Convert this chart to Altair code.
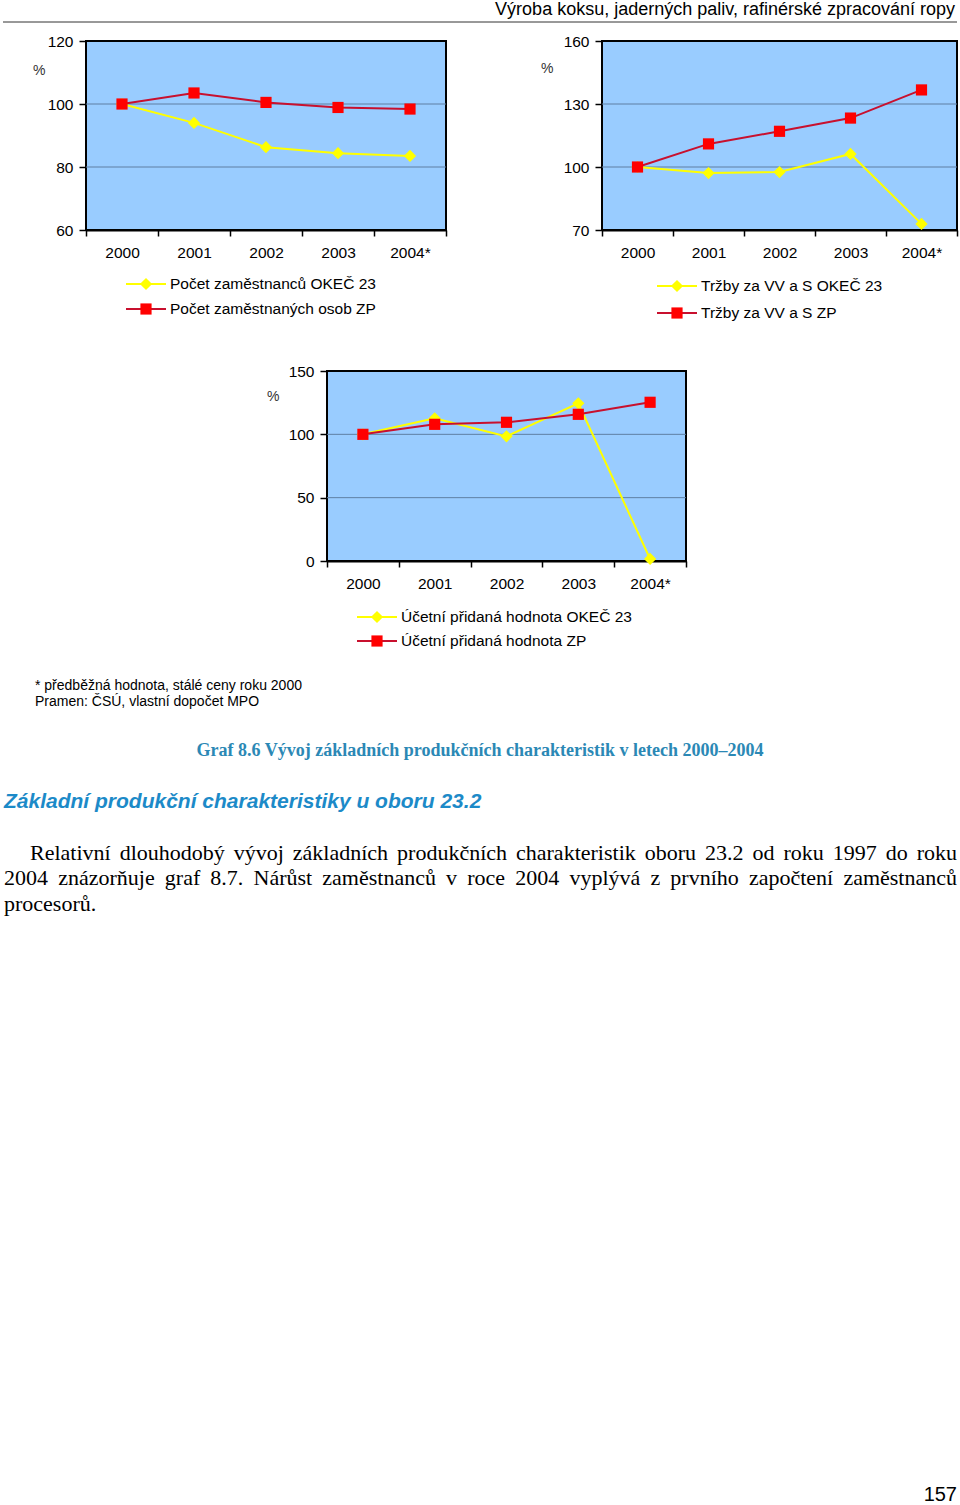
import unicodedata
import altair as alt
import pandas as pd

# ---------------- data ----------------
years = ["2000", "2001", "2002", "2003", "2004*"]

# chart 1 – employees
emp_names = ["Počet zaměstnanců OKEČ 23", "Počet zaměstnaných osob ZP"]
emp_okec = [100, 94.0, 86.3, 84.4, 83.5]
emp_zp = [100, 103.5, 100.5, 98.9, 98.4]
emp_ticks = [60, 80, 100, 120]

# chart 2 – sales
sal_names = ["Tržby za VV a S OKEČ 23", "Tržby za VV a S ZP"]
sal_okec = [100, 97.1, 97.6, 106.2, 72.9]
sal_zp = [100, 111.0, 117.0, 123.3, 136.7]
sal_ticks = [70, 100, 130, 160]

# chart 3 – value added
va_names = ["Účetní přidaná hodnota OKEČ 23", "Účetní přidaná hodnota ZP"]
va_okec = [100, 112.6, 98.4, 124.5, 1.6]
va_zp = [100, 107.9, 109.5, 115.8, 125.3]
va_ticks = [0, 50, 100, 150]

header_text = "Výroba koksu, jaderných paliv, rafinérské zpracování ropy"
footnote_1 = "* předběžná hodnota, stálé ceny roku 2000"
footnote_2 = "Pramen: ČSÚ, vlastní dopočet MPO"
caption = "Graf 8.6 Vývoj základních produkčních charakteristik v letech 2000–2004"
heading = "Základní produkční charakteristiky u oboru 23.2"
para_lines = [
    "Relativní dlouhodobý vývoj základních produkčních charakteristik oboru 23.2 od roku 1997 do roku",
    "2004 znázorňuje graf 8.7. Nárůst zaměstnanců v roce 2004 vyplývá z prvního započtení zaměstnanců",
    "procesorů.",
]
page_no = "157"

# ---------------- styles ----------------
W, H = 960, 1505
SANS = "Liberation Sans"
SERIF = "Liberation Serif"
PLOT_BG = "#99CCFF"
YELLOW = "#FFFF00"
RED_LINE = "#C8102E"
RED_MARK = "#FF0000"
GRID = "#5E7FA3"
ONE = pd.DataFrame({"v": [0]})

# Times / Liberation Serif advance widths (per 1000 em), used to justify the paragraph
SERIF_W = {
    "a": 444, "b": 500, "c": 444, "d": 500, "e": 444, "f": 333, "g": 500, "h": 500,
    "i": 278, "j": 278, "k": 500, "l": 278, "m": 778, "n": 500, "o": 500, "p": 500,
    "q": 500, "r": 333, "s": 389, "t": 278, "u": 500, "v": 500, "w": 722, "x": 500,
    "y": 500, "z": 444, "R": 667, "N": 722, ".": 250, ",": 250, " ": 250,
}


def word_width(word, size):
    total = 0
    for ch in word:
        base = unicodedata.normalize("NFD", ch)[0]
        total += SERIF_W.get(base, 500)
    return total * size / 1000.0


def text_layer(txt, x, y, size=15, font=SANS, align="left", color="#000",
               weight="normal", style="normal"):
    return alt.Chart(pd.DataFrame({"t": [txt]})).mark_text(
        align=align, baseline="middle", font=font, fontSize=size,
        color=color, fontWeight=weight, fontStyle=style
    ).encode(x=alt.value(x), y=alt.value(y), text="t:N")


def justified_line(line, x_start, x_end, y, size):
    words = line.split(" ")
    widths = [word_width(w, size) for w in words]
    gap = (x_end - x_start - sum(widths)) / (len(words) - 1)
    layers, x = [], x_start
    for w, wd in zip(words, widths):
        layers.append(text_layer(w, x, y, size=size, font=SERIF))
        x += wd + gap
    # last word right-aligned exactly at the margin
    layers[-1] = text_layer(words[-1], x_end, y, size=size, font=SERIF, align="right")
    return layers


def line_chart(names, v_yel, v_red, ticks, box, pct, leg):
    x0, x1, y0, y1 = box  # plot area in page pixels (left, right, top, bottom)
    df = pd.DataFrame({
        "year": years * 2,
        "value": v_yel + v_red,
        "series": [names[0]] * len(years) + [names[1]] * len(years),
    })
    xaxis = alt.Axis(title=None, orient="bottom", offset=y1 - H, tickBand="extent",
                     tickSize=6, tickWidth=1.5, tickColor="#000", labelAngle=0,
                     labelPadding=9, labelFont=SANS, labelFontSize=15.5,
                     labelColor="#000", domainColor="#000", domainWidth=2, grid=False)
    yaxis = alt.Axis(title=None, orient="left", offset=-x0, values=ticks, grid=False,
                     tickSize=7, tickWidth=1.5, tickColor="#000", labelPadding=6,
                     labelFont=SANS, labelFontSize=15.5, labelColor="#000",
                     domainColor="#000", domainWidth=2)
    xenc = alt.X("year:N", sort=years,
                 scale=alt.Scale(type="band", range=[x0, x1], paddingInner=0,
                                 paddingOuter=0),
                 axis=xaxis, bandPosition=0.5)
    yenc = alt.Y("value:Q",
                 scale=alt.Scale(domain=[ticks[0], ticks[-1]], range=[y1, y0],
                                 nice=False, zero=False),
                 axis=yaxis)
    base = alt.Chart(df).encode(x=xenc, y=yenc)
    grid = alt.Chart(pd.DataFrame({"value": ticks[1:-1]})).mark_rule(
        color=GRID, strokeWidth=1
    ).encode(y=yenc, x=alt.value(x0), x2=alt.value(x1))
    bg = alt.Chart(ONE).mark_rect(fill=PLOT_BG, stroke="#000", strokeWidth=2).encode(
        x=alt.value(x0), x2=alt.value(x1), y=alt.value(y0), y2=alt.value(y1))
    yel = base.transform_filter(alt.datum.series == names[0])
    red = base.transform_filter(alt.datum.series == names[1])
    layers = [
        bg,
        grid,
        yel.mark_line(color=YELLOW, strokeWidth=2),
        yel.mark_point(shape="diamond", filled=True, color=YELLOW, size=150, opacity=1),
        red.mark_line(color=RED_LINE, strokeWidth=2),
        red.mark_point(shape="square", filled=True, color=RED_MARK, size=125, opacity=1),
        text_layer("%", pct[0], pct[1], size=14, color="#333"),
    ]
    lx0, lx1, tx, ly0, ly1 = leg
    mx = (lx0 + lx1) / 2
    for i, (ly, col_line, col_mark, shape, sz) in enumerate([
        (ly0, YELLOW, YELLOW, "diamond", 150),
        (ly1, RED_LINE, RED_MARK, "square", 125),
    ]):
        layers.append(alt.Chart(ONE).mark_rule(color=col_line, strokeWidth=2).encode(
            x=alt.value(lx0), x2=alt.value(lx1), y=alt.value(ly)))
        layers.append(alt.Chart(ONE).mark_point(shape=shape, filled=True, color=col_mark,
                                                size=sz, opacity=1).encode(
            x=alt.value(mx), y=alt.value(ly)))
        layers.append(text_layer(names[i], tx, ly, size=15.5))
    return alt.layer(*layers)


chart1 = line_chart(emp_names, emp_okec, emp_zp, emp_ticks, (86, 446, 41, 230),
                    (33, 71), (126, 166, 170, 284, 309))
chart2 = line_chart(sal_names, sal_okec, sal_zp, sal_ticks, (602, 957, 41, 230),
                    (541, 69), (657, 697, 701, 286, 313))
chart3 = line_chart(va_names, va_okec, va_zp, va_ticks, (327, 686, 371, 561),
                    (267, 397), (357, 397, 401, 617, 641))

page_layers = [
    text_layer(header_text, 955, 10, size=18, align="right"),
    alt.Chart(ONE).mark_rule(color="#333", strokeWidth=1).encode(
        x=alt.value(3), x2=alt.value(957), y=alt.value(22)),
    text_layer(footnote_1, 35, 686, size=14),
    text_layer(footnote_2, 35, 702, size=14),
    text_layer(caption, 480, 751, size=18, font=SERIF, align="center",
               color="#2B88B5", weight="bold"),
    text_layer(heading, 4, 802, size=21, color="#1C8AC8", weight="bold", style="italic"),
]
page_layers += justified_line(para_lines[0], 30, 957, 853, 22)
page_layers += justified_line(para_lines[1], 4, 957, 878, 22)
page_layers.append(text_layer(para_lines[2], 4, 904, size=22, font=SERIF))
page_layers.append(text_layer(page_no, 957, 1495, size=20, align="right"))
page_text = alt.layer(*page_layers)

chart = alt.layer(chart1, chart2, chart3, page_text).resolve_scale(
    x="independent", y="independent"
).properties(
    width=W, height=H, padding=0, background="#FFFFFF"
).configure_view(stroke="transparent")

chart.save("out.html", embed_options={"renderer": "svg", "actions": False})
